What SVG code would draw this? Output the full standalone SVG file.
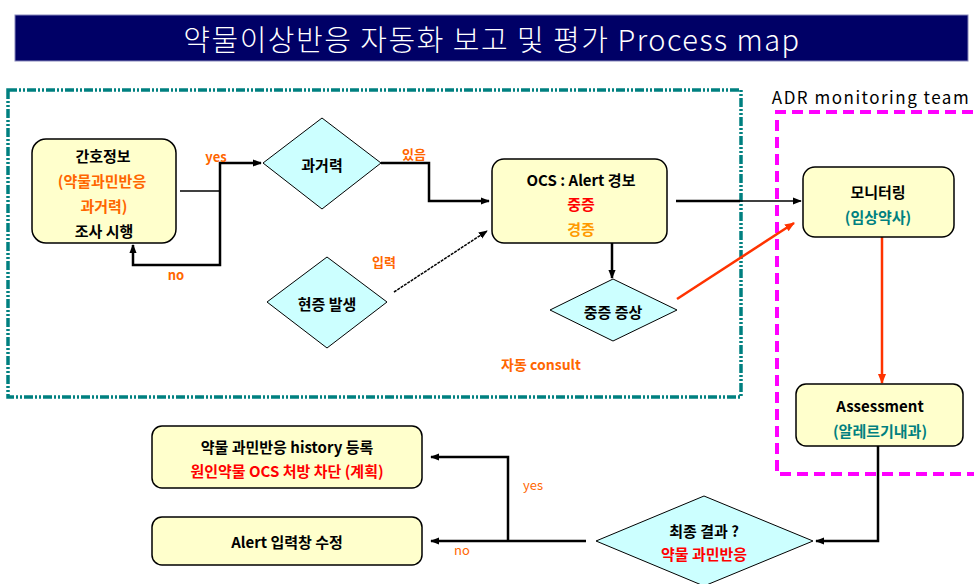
<svg xmlns="http://www.w3.org/2000/svg" width="974" height="584" viewBox="0 0 974 584">
<defs>
<style>
text{font-family:"Noto Sans CJK KR","Liberation Sans",sans-serif;dominant-baseline:central;text-anchor:middle}
.t{font-size:15px;font-weight:bold;fill:#000}
.red{fill:#ff0000}
.org{fill:#ff9900}
.teal{fill:#008080}
.lbl{font-size:13px;font-weight:bold;fill:#ff6600}
.box{fill:#ffffcc;stroke:#000;stroke-width:1.5}
.dia{fill:#ccffff;stroke:#000;stroke-width:1}
.ln{fill:none;stroke:#000;stroke-width:2.5}
.thin{fill:none;stroke:#000;stroke-width:1.5}
.rl{fill:none;stroke:#ff3300;stroke-width:2.5}
</style>
<marker id="ah" viewBox="0 0 10 10" refX="9" refY="5" markerWidth="9" markerHeight="9" markerUnits="userSpaceOnUse" orient="auto"><path d="M0,1 L10,5 L0,9 z" fill="#000"/></marker>
<marker id="ahr" viewBox="0 0 10 10" refX="9" refY="5" markerWidth="10" markerHeight="10" markerUnits="userSpaceOnUse" orient="auto"><path d="M0,1 L10,5 L0,9 z" fill="#ff3300"/></marker>
</defs>
<rect width="974" height="584" fill="#fff"/>
<g id="title">
<rect x="15" y="15" width="953" height="46" fill="#000066" stroke="#8888bb" stroke-width="1"/>
<text x="492" y="38" style="font-size:29px;letter-spacing:1.5px;fill:#fff;font-weight:300">약물이상반응 자동화 보고 및 평가 Process map</text>
</g>
<g id="groups">
<rect x="8" y="90" width="733" height="307" fill="none" stroke="#008080" stroke-width="3.5" stroke-dasharray="9 2 2 2 2 2"/>
<path d="M990,112 H777 V474 H990" fill="none" stroke="#ff00ff" stroke-width="4" stroke-dasharray="11 6"/>
<text x="871" y="96" style="font-size:17px;letter-spacing:1.5px;fill:#000">ADR monitoring team</text>
</g>
<g id="connectors">
<path class="thin" d="M180,191 H220"/>
<path class="ln" d="M220,191 V163 H261" marker-end="url(#ah)"/>
<path class="ln" d="M220,191 V265 H133 V245" marker-end="url(#ah)"/>
<path class="ln" d="M381,163 H429 V201 H489" marker-end="url(#ah)"/>
<path class="thin" d="M394,292 L487,231" stroke-dasharray="3 1" marker-end="url(#ah)"/>
<path class="ln" d="M676,201 H740"/>
<path class="thin" d="M740,201 H801" marker-end="url(#ah)"/>
<path class="ln" d="M612,243 V278" marker-end="url(#ah)"/>
<path class="rl" d="M677,299 L794,223" marker-end="url(#ahr)"/>
<path class="rl" d="M882,237 V383" marker-end="url(#ahr)"/>
<path class="ln" d="M878,446 V541 H816" marker-end="url(#ah)"/>
<path class="ln" d="M586,541 H431" marker-end="url(#ah)"/>
<path class="ln" d="M508,541 V457 H431" marker-end="url(#ah)"/>
<text class="lbl" x="216" y="156">yes</text>
<text class="lbl" x="176" y="274">no</text>
<text class="lbl" x="414" y="153">있음</text>
<text class="lbl" x="384" y="261">입력</text>
<text class="lbl" x="541" y="364" style="font-size:14px">자동 consult</text>
<text class="lbl" x="533" y="484" style="font-weight:normal">yes</text>
<text class="lbl" x="462" y="549" style="font-weight:normal">no</text>
</g>
<g id="n-nursing">
<rect class="box" x="32" y="139" width="144" height="104" rx="14"/>
<text class="t" x="103" y="155">간호정보</text>
<text class="t org" x="102" y="180" style="fill:#ff6600">(약물과민반응</text>
<text class="t org" x="104" y="205" style="fill:#ff6600">과거력)</text>
<text class="t" x="104" y="230">조사 시행</text>
</g>
<g id="d-history">
<polygon class="dia" points="263,163 322,118 381,163 322,209"/>
<text class="t" x="322" y="164">과거력</text>
</g>
<g id="d-onset">
<polygon class="dia" points="267,302 327,257 387,302 327,348"/>
<text class="t" x="327" y="303">현증 발생</text>
</g>
<g id="n-ocs">
<rect class="box" x="492" y="159" width="175" height="84" rx="12"/>
<text class="t" x="581" y="179">OCS : Alert 경보</text>
<text class="t red" x="581" y="203">중증</text>
<text class="t org" x="581" y="228">경증</text>
</g>
<g id="d-severe">
<polygon class="dia" points="550,310 613,279 677,310 613,341"/>
<text class="t" x="613" y="311">중증 증상</text>
</g>
<g id="n-monitor">
<rect class="box" x="803" y="167" width="151" height="70" rx="12"/>
<text class="t" x="878" y="191">모니터링</text>
<text class="t teal" x="878" y="216">(임상약사)</text>
</g>
<g id="n-assess">
<rect class="box" x="796" y="384" width="167" height="62" rx="10"/>
<text class="t" x="880" y="405">Assessment</text>
<text class="t teal" x="880" y="430">(알레르기내과)</text>
</g>
<g id="d-final">
<polygon class="dia" points="596,541 704,496 813,541 704,586"/>
<text class="t" x="704" y="530">최종 결과 ?</text>
<text class="t red" x="704" y="553">약물 과민반응</text>
</g>
<g id="n-history">
<rect class="box" x="152" y="426" width="270" height="62" rx="10"/>
<text class="t" x="287" y="446">약물 과민반응 history 등록</text>
<text class="t red" x="287" y="470">원인약물 OCS 처방 차단 (계획)</text>
</g>
<g id="n-alert">
<rect class="box" x="152" y="517" width="270" height="48" rx="10"/>
<text class="t" x="287" y="541">Alert 입력창 수정</text>
</g>
</svg>
